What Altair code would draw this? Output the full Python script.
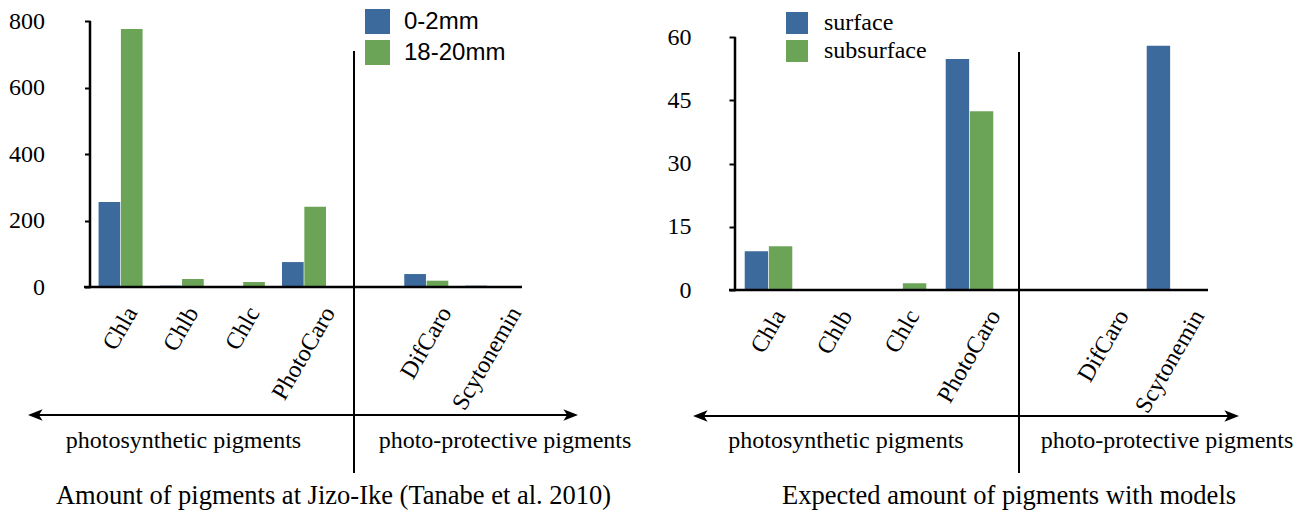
import altair as alt
import pandas as pd

# ---- data ----
categories = ["Chla", "Chlb", "Chlc", "PhotoCaro", "DifCaro", "Scytonemin"]
slots = ["Chla", "Chlb", "Chlc", "PhotoCaro", " ", "DifCaro", "Scytonemin"]

left_series = ["0-2mm", "18-20mm"]
left_0_2mm = [256, 4, 0, 75, 39, 4]
left_18_20mm = [776, 24, 15, 241, 19, 0]
left_ticks = [0, 200, 400, 600, 800]

right_series = ["surface", "subsurface"]
right_surface = [9.2, 0, 0, 54.8, 0, 57.9]
right_subsurface = [10.4, 0, 1.6, 42.4, 0, 0]
right_ticks = [0, 15, 30, 45, 60]

left_texts = ["photosynthetic pigments", "photo-protective pigments",
              "Amount of pigments at Jizo-Ike (Tanabe et al. 2010)"]
right_texts = ["photosynthetic pigments", "photo-protective pigments",
               "Expected amount of pigments with models"]

colors = ["#3c6a9c", "#6ba457"]
SERIF = "Liberation Serif"
SANS = "Liberation Sans"
SQUARE = "M-1,-1H1V1H-1Z"
HEAD_L = "M-1,0L1,-0.8L0.5,0L1,0.8Z"
HEAD_R = "M1,0L-1,-0.8L-0.5,0L-1,0.8Z"


def long_df(series, a, b):
    rows = []
    for c, va, vb in zip(categories, a, b):
        rows.append({"cat": c, "series": series[0], "value": va})
        rows.append({"cat": c, "series": series[1], "value": vb})
    return pd.DataFrame(rows)


one = pd.DataFrame({"k": [0]})
cat_df = pd.DataFrame({"cat": categories})


def panel(df, series, ticks, ymax, ytop, W, H, pad_inner, ylab_pad, tick_size,
          leg_font, leg_size, leg_offset, leg_rowpad, leg_x, leg_y,
          div_x, div_y1, div_y2, arr_x1, arr_x2, arr_y, texts, text_pos):
    xscale = alt.Scale(domain=slots, paddingInner=pad_inner,
                       paddingOuter=pad_inner / 2)
    bars = alt.Chart(df).mark_bar().encode(
        x=alt.X("cat:N", sort=slots, scale=xscale, axis=None),
        xOffset=alt.XOffset("series:N",
                            scale=alt.Scale(domain=series, paddingInner=0.03,
                                            paddingOuter=0)),
        y=alt.Y("value:Q",
                scale=alt.Scale(domain=[0, ymax], nice=False, zero=True),
                axis=alt.Axis(title=None, values=ticks, domain=False, grid=False,
                              tickSize=tick_size, tickWidth=2, tickColor="black",
                              labelFont=SERIF, labelFontSize=24,
                              labelColor="black", labelPadding=ylab_pad)),
        color=alt.Color("series:N",
                        scale=alt.Scale(domain=series, range=colors),
                        legend=alt.Legend(title=None, orient="none",
                                          legendX=leg_x, legendY=leg_y,
                                          direction="vertical", padding=0,
                                          symbolType=SQUARE, symbolSize=leg_size,
                                          symbolStrokeWidth=0, symbolOpacity=1,
                                          labelFont=leg_font, labelFontSize=24,
                                          labelColor="black",
                                          labelOffset=leg_offset,
                                          rowPadding=leg_rowpad)),
    )
    layers = [bars]
    # rotated category labels (real text), each centred over its band.
    # dx/dy act in the rotated frame: a horizontal shift s is (s/2, 0.866 s).
    for c in categories:
        s = 2.85 * len(c)
        layers.append(
            alt.Chart(cat_df).transform_filter(alt.datum.cat == c).mark_text(
                angle=300, align="right", baseline="middle", font=SERIF,
                fontSize=24, color="black", dx=s / 2, dy=0.866 * s).encode(
                x=alt.X("cat:N", sort=slots, scale=xscale, axis=None),
                y=alt.value(H + 22),
                text="cat:N",
            ))
    yaxis = alt.Chart(one).mark_rule(color="black", strokeWidth=2.5).encode(
        x=alt.value(0), y=alt.datum(0), y2=alt.datum(ytop))
    xaxis = alt.Chart(one).mark_rule(color="black", strokeWidth=2.5).encode(
        y=alt.value(H), x=alt.value(-6), x2=alt.value(W + 4))
    divider = alt.Chart(one).mark_rule(color="black", strokeWidth=2).encode(
        x=alt.value(div_x), y=alt.value(div_y1), y2=alt.value(div_y2))
    arrow = alt.Chart(one).mark_rule(color="black", strokeWidth=2).encode(
        x=alt.value(arr_x1 + 6), x2=alt.value(arr_x2 - 6), y=alt.value(arr_y))
    head_l = alt.Chart(one).mark_point(shape=HEAD_L, filled=True, size=213,
                                        color="black", opacity=1).encode(
        x=alt.value(arr_x1 + 7.3), y=alt.value(arr_y))
    head_r = alt.Chart(one).mark_point(shape=HEAD_R, filled=True, size=213,
                                        color="black", opacity=1).encode(
        x=alt.value(arr_x2 - 7.3), y=alt.value(arr_y))
    layers += [yaxis, xaxis, divider, arrow, head_l, head_r]
    for i, (t, (tx, ty)) in enumerate(zip(texts, text_pos)):
        layers.append(
            alt.Chart(one).mark_text(text=t, font=SERIF,
                                     fontSize=26.5 if i == 2 else 24,
                                     color="black", align="center",
                                     baseline="alphabetic").encode(
                x=alt.value(tx), y=alt.value(ty)))
    return alt.layer(*layers).properties(width=W, height=H)


left_df = long_df(left_series, left_0_2mm, left_18_20mm)
right_df = long_df(right_series, right_surface, right_subsurface)

left = panel(left_df, left_series, left_ticks, 800, 800, 428, 266, 0.28, 40, 5.5,
             SANS, 625, 14, 6, 275, -12,
             264, 30, 452, -62, 488, 394,
             left_texts, [(93.5, 427), (415, 427), (243.5, 483)])

right_ymax = 60 * 269 / 253
right = panel(right_df, right_series, right_ticks, right_ymax, 60, 469, 269, 0.29, 38, 6,
              SERIF, 484, 15, 4, 50, -10,
              284, 31, 452, -42, 504, 395,
              right_texts, [(111, 427), (432, 427), (274, 483)])

chart = alt.hconcat(left, right, spacing=217, bounds="flush").resolve_scale(
    color="independent", x="independent", y="independent", xOffset="independent"
).properties(padding={"left": 0, "top": 1, "right": 0, "bottom": 0}).configure_view(
    strokeWidth=0)

chart.save("out.html", embed_options={"renderer": "svg", "actions": False})
